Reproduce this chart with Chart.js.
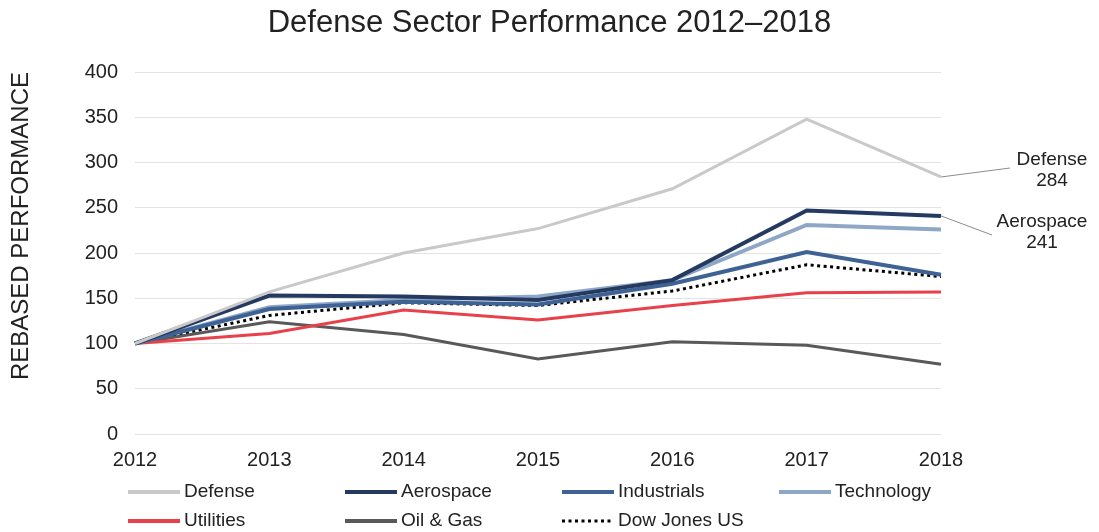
<!DOCTYPE html>
<html>
<head>
<meta charset="utf-8">
<script src="https://cdn.jsdelivr.net/npm/chart.js@4.4.1/dist/chart.umd.min.js"></script>
<style>
  html, body { margin: 0; padding: 0; background: #fff; }
  #wrap { width: 1099px; height: 532px; }
</style>
</head>
<body>
<div id="wrap"><canvas id="mycanvas" width="1099" height="532"></canvas></div>
<script>
var years = ['2012', '2013', '2014', '2015', '2016', '2017', '2018'];
var yTicks = [0, 50, 100, 150, 200, 250, 300, 350, 400];

var defense     = [100, 157, 200, 227, 271, 348, 284];
var aerospace   = [100, 153, 152, 148, 170, 247, 241];
var industrials = [100, 138, 146, 143, 166, 201, 176];
var technology  = [100, 140, 148, 152, 170, 231, 226];
var utilities   = [100, 111, 137, 126, 142, 156, 157];
var oilGas      = [100, 124, 110, 83, 102, 98, 77];
var dowJones    = [100, 131, 145, 142, 158, 187, 174];

var FONT = '"Liberation Sans", Arial, sans-serif';
var TEXT = '#222222';

function series(label, data, color, width, dash) {
  return {
    label: label,
    data: data,
    borderColor: color,
    backgroundColor: color,
    borderWidth: width,
    borderDash: dash || [],
    pointRadius: 0,
    tension: 0,
    fill: false
  };
}

// page title centred on the whole canvas, and the rotated y caption
var captions = {
  id: 'captions',
  afterDraw: function(chart) {
    var ctx = chart.ctx;
    ctx.save();
    ctx.fillStyle = TEXT;
    ctx.textAlign = 'center';
    ctx.textBaseline = 'middle';
    ctx.font = '31px ' + FONT;
    ctx.fillText('Defense Sector Performance 2012\u20132018', chart.width / 2, 23);
    ctx.translate(21, 226);
    ctx.rotate(-Math.PI / 2);
    ctx.font = '24px ' + FONT;
    ctx.fillText('REBASED PERFORMANCE', 0, 0);
    ctx.restore();
  }
};

// fixed-column legend under the x axis
var gridLegend = {
  id: 'gridLegend',
  afterDraw: function(chart) {
    var ctx = chart.ctx;
    var cols = 4, x0 = 128, colW = 217, rowY = [492, 521];
    ctx.save();
    ctx.font = '19px ' + FONT;
    ctx.textBaseline = 'middle';
    chart.data.datasets.forEach(function(ds, i) {
      var x = x0 + (i % cols) * colW;
      var y = rowY[Math.floor(i / cols)];
      ctx.beginPath();
      ctx.strokeStyle = ds.borderColor;
      ctx.lineWidth = ds.borderDash.length ? 3 : 4;
      ctx.setLineDash(ds.borderDash);
      ctx.moveTo(x, y);
      ctx.lineTo(x + 52, y);
      ctx.stroke();
      ctx.setLineDash([]);
      ctx.fillStyle = TEXT;
      ctx.textAlign = 'left';
      ctx.fillText(ds.label, x + 56, y);
    });
    ctx.restore();
  }
};

// end-of-line callouts for Defense and Aerospace
var endLabels = {
  id: 'endLabels',
  afterDraw: function(chart) {
    var ctx = chart.ctx;
    var xs = chart.scales.x, ys = chart.scales.y;
    var last = years.length - 1;
    var items = [
      { name: 'Defense', value: defense[last], tx: 1010, ty: 168, cx: 1052, cy: 160 },
      { name: 'Aerospace', value: aerospace[last], tx: 992, ty: 235, cx: 1042, cy: 222 }
    ];
    ctx.save();
    items.forEach(function(it) {
      var px = xs.getPixelForValue(last);
      var py = ys.getPixelForValue(it.value);
      ctx.beginPath();
      ctx.strokeStyle = '#8c8c8c';
      ctx.lineWidth = 1;
      ctx.moveTo(px, py);
      ctx.lineTo(it.tx, it.ty);
      ctx.stroke();
      ctx.fillStyle = TEXT;
      ctx.font = '19px ' + FONT;
      ctx.textAlign = 'center';
      ctx.textBaseline = 'middle';
      ctx.fillText(it.name, it.cx, it.cy);
      ctx.fillText(String(it.value), it.cx, it.cy + 21);
    });
    ctx.restore();
  }
};

var ctx = document.getElementById('mycanvas');

var lineChart = new Chart(ctx, {
  type: 'line',
  data: {
    labels: years,
    datasets: [
      series('Defense', defense, '#c9c9c9', 3),
      series('Aerospace', aerospace, '#253a60', 4),
      series('Industrials', industrials, '#3d6293', 4),
      series('Technology', technology, '#8fa7c7', 4),
      series('Utilities', utilities, '#e8414b', 3),
      series('Oil & Gas', oilGas, '#595959', 3),
      series('Dow Jones US', dowJones, '#000000', 3, [3, 3.5])
    ]
  },
  options: {
    responsive: false,
    animation: false,
    layout: { padding: { left: 20, right: 158, top: 72, bottom: 46 } },
    plugins: {
      legend: { display: false },
      tooltip: { enabled: false },
      title: { display: false }
    },
    scales: {
      x: {
        type: 'category',
        offset: false,
        grid: { display: false, drawTicks: false },
        border: { display: false },
        ticks: {
          color: TEXT,
          padding: 14,
          maxRotation: 0,
          font: { family: FONT, size: 20, lineHeight: 1.2 }
        }
      },
      y: {
        min: 0,
        max: 400,
        afterBuildTicks: function(scale) {
          scale.ticks = yTicks.map(function(v) { return { value: v }; });
        },
        afterFit: function(scale) { scale.width = 115; },
        grid: { color: '#e3e3e3', lineWidth: 1, drawTicks: false },
        border: { display: false },
        ticks: {
          color: TEXT,
          padding: 17,
          font: { family: FONT, size: 20 }
        }
      }
    }
  },
  plugins: [captions, gridLegend, endLabels]
});
</script>
</body>
</html>
